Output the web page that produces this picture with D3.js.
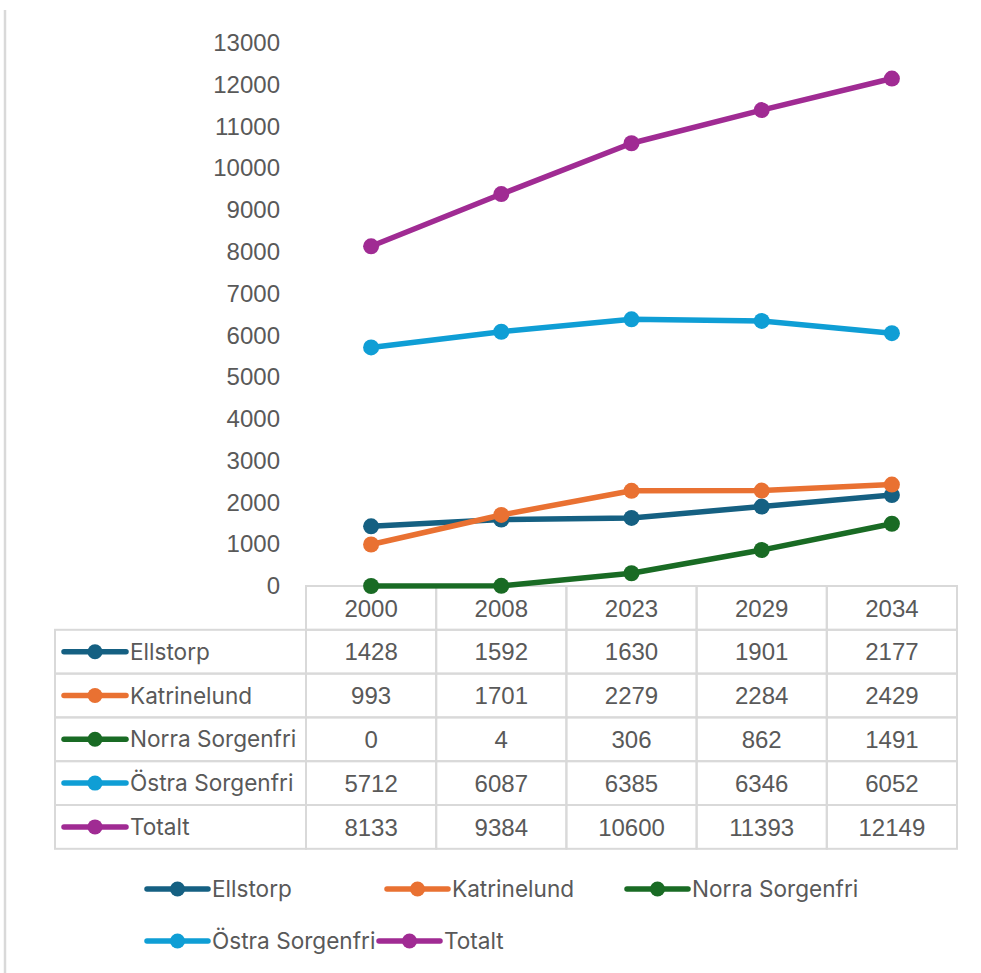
<!DOCTYPE html>
<html><head><meta charset="utf-8">
<script src="https://cdn.jsdelivr.net/npm/d3@7/dist/d3.min.js"></script>
<style>html,body{margin:0;padding:0;background:#fff;}</style>
</head><body>
<svg id="chart" width="981" height="973"></svg>
<script>
const years = ["2000","2008","2023","2029","2034"];
const seriesNames = ["Ellstorp","Katrinelund","Norra Sorgenfri","Östra Sorgenfri","Totalt"];
const ellstorp = [1428,1592,1630,1901,2177];
const katrinelund = [993,1701,2279,2284,2429];
const norraSorgenfri = [0,4,306,862,1491];
const ostraSorgenfri = [5712,6087,6385,6346,6052];
const totalt = [8133,9384,10600,11393,12149];
const colors = ["#156082","#E97132","#196B24","#0F9ED5","#A02B93"];
const yTicks = [0,1000,2000,3000,4000,5000,6000,7000,8000,9000,10000,11000,12000,13000];

const seriesValues = [ellstorp, katrinelund, norraSorgenfri, ostraSorgenfri, totalt];
const series = seriesNames.map((n,i)=>({name:n, values:seriesValues[i], color:colors[i]}));

const svg = d3.select("#chart");
const numFont = "'Liberation Sans', Arial, sans-serif";
const lblFont = "Inter, 'Noto Sans', sans-serif";
const textCol = "#595959";
const gridCol = "#d9d9d9";

// left frame line
svg.append("line").attr("x1",5).attr("x2",5).attr("y1",10).attr("y2",973)
  .attr("stroke","#d9d9d9").attr("stroke-width",2.5);

const x = d3.scaleBand().domain(years).range([306,957]).padding(0);
const y = d3.scaleLinear().domain([0,13000]).range([586,43]);
const cx = d => x(d) + x.bandwidth()/2;

// y axis labels
const yAxis = d3.axisLeft(y).tickValues(yTicks).tickSize(0).tickPadding(0).tickFormat(d3.format("d"));
const gy = svg.append("g").attr("transform","translate(280,0)").call(yAxis);
gy.select(".domain").remove();
gy.selectAll("text").attr("font-family",numFont).attr("font-size",24).attr("fill",textCol);

// table
const tableLeft = 55, headTop = 586;
const rowH = 43.8;
const rowTop = i => headTop + rowH*(i+1);
const tg = svg.append("g");
years.forEach(yr=>{
  tg.append("rect").attr("x",x(yr)).attr("y",headTop).attr("width",x.bandwidth()).attr("height",rowH)
    .attr("fill","none").attr("stroke",gridCol).attr("stroke-width",2);
  tg.append("text").attr("x",cx(yr)).attr("y",headTop+rowH/2).attr("dy","0.36em")
    .attr("text-anchor","middle").attr("font-family",numFont).attr("font-size",24).attr("fill",textCol).text(yr);
});
series.forEach((s,i)=>{
  const top = rowTop(i);
  tg.append("rect").attr("x",tableLeft).attr("y",top).attr("width",306-tableLeft).attr("height",rowH)
    .attr("fill","none").attr("stroke",gridCol).attr("stroke-width",2);
  years.forEach((yr,j)=>{
    tg.append("rect").attr("x",x(yr)).attr("y",top).attr("width",x.bandwidth()).attr("height",rowH)
      .attr("fill","none").attr("stroke",gridCol).attr("stroke-width",2);
    tg.append("text").attr("x",cx(yr)).attr("y",top+rowH/2).attr("dy","0.36em")
      .attr("text-anchor","middle").attr("font-family",numFont).attr("font-size",24).attr("fill",textCol).text(s.values[j]);
  });
  const my = top + rowH/2;
  tg.append("line").attr("x1",64).attr("x2",126).attr("y1",my).attr("y2",my)
    .attr("stroke",s.color).attr("stroke-width",5.5).attr("stroke-linecap","round");
  tg.append("circle").attr("cx",95).attr("cy",my).attr("r",7.5).attr("fill",s.color);
  tg.append("text").attr("x",130).attr("y",my).attr("dy","0.36em")
    .attr("font-family",lblFont).attr("font-size",22.6).attr("fill",textCol).text(s.name);
});

// lines
const line = d3.line().x((d,i)=>cx(years[i])).y(d=>y(d));
series.forEach(s=>{
  svg.append("path").datum(s.values).attr("d",line).attr("fill","none")
    .attr("stroke",s.color).attr("stroke-width",5.5).attr("stroke-linejoin","round").attr("stroke-linecap","round");
  svg.selectAll(null).data(s.values).enter().append("circle")
    .attr("cx",(d,i)=>cx(years[i])).attr("cy",d=>y(d)).attr("r",8).attr("fill",s.color);
});

// legend
const legendPos = [[145,889],[385,889],[625,889],[145,941],[377,941]];
series.forEach((s,i)=>{
  const [lx,ly] = legendPos[i];
  const g = svg.append("g").attr("transform",`translate(${lx},${ly})`);
  g.append("line").attr("x1",2).attr("x2",63).attr("y1",0).attr("y2",0)
    .attr("stroke",s.color).attr("stroke-width",5.5).attr("stroke-linecap","round");
  g.append("circle").attr("cx",32.5).attr("cy",0).attr("r",7.5).attr("fill",s.color);
  g.append("text").attr("x",67).attr("y",0).attr("dy","0.36em")
    .attr("font-family",lblFont).attr("font-size",22.6).attr("fill",textCol).text(s.name);
});
</script>
</body></html>
